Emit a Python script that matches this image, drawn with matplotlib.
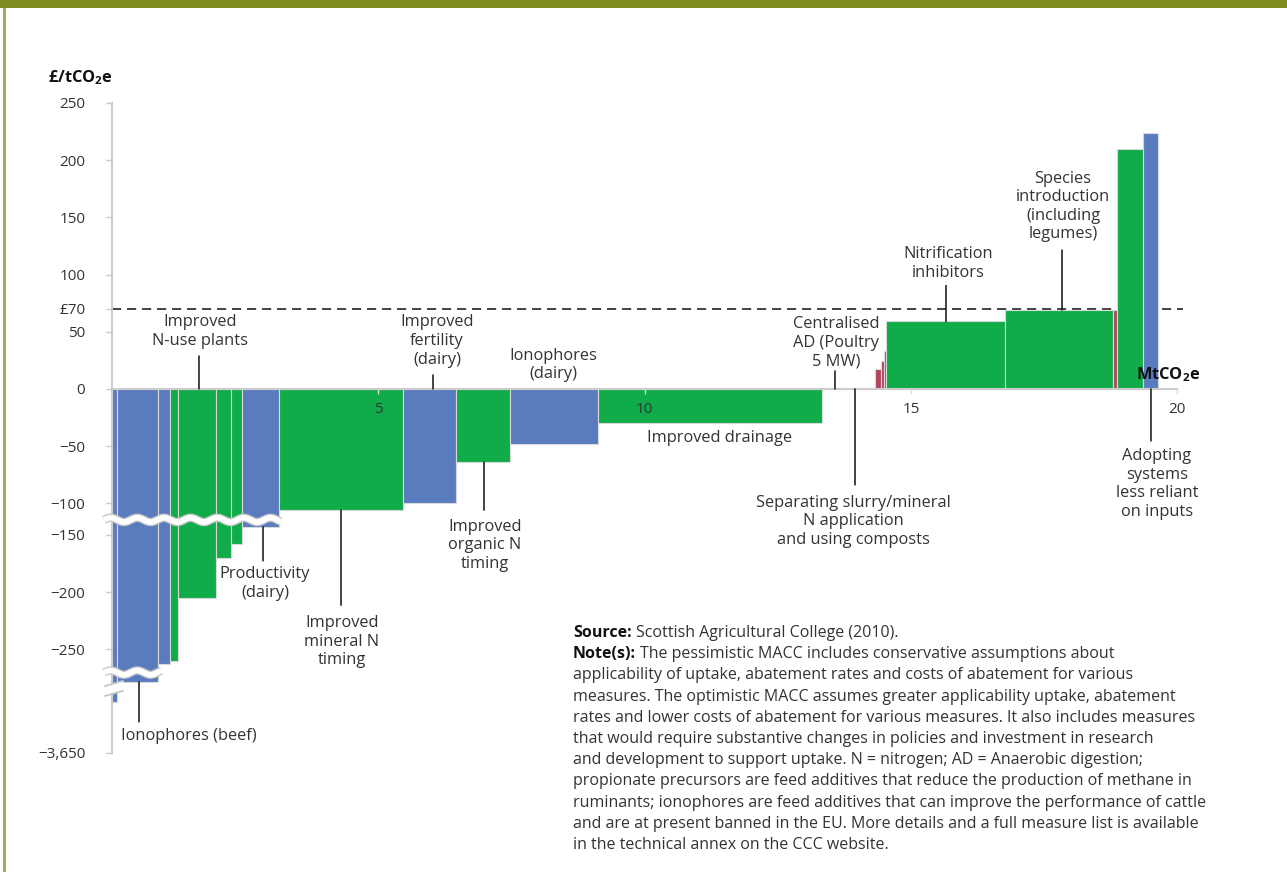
import numpy as np
import matplotlib
matplotlib.use("Agg")
import matplotlib.pyplot as plt
from matplotlib.patches import Rectangle
from matplotlib.ticker import NullLocator

plt.rcParams['font.family'] = ['Open Sans', 'DejaVu Sans']
plt.rcParams['mathtext.fontset'] = 'custom'
plt.rcParams['mathtext.rm'] = 'Open Sans'
plt.rcParams['mathtext.bf'] = 'Open Sans:bold'

# MACC: abatement of each measure (MtCO2e) and its cost (£/tCO2e), cheapest first
abatement = [0.10, 0.77, 0.21, 0.15, 0.73, 0.28, 0.20, 0.69, 2.34, 0.98, 1.03, 1.64,
             4.21, 0.48, 0.52, 0.10, 0.07, 0.03, 2.23, 2.04, 0.07, 0.48, 0.29]
cost = [-950, -278.5, -263, -260, -205, -170, -158, -143, -106, -100, -64, -48,
        -30, 0, 0, 17, 24, 33, 59, 69, 69, 210, 224]
group = ['b', 'b', 'b', 'g', 'g', 'g', 'g', 'b', 'g', 'b', 'g', 'b',
         'g', 'g', 'g', 'r', 'r', 'r', 'g', 'g', 'r', 'g', 'b']
colours = {'b': '#5b7bbf', 'g': '#10ac4a', 'r': '#b04560'}

yticks = [250, 200, 150, 100, 70, 50, 0, -50, -100, -150, -200, -250, -3650]
ytick_labels = ['250', '200', '150', '100', '£70', '50', '0', '−50', '−100',
                '−150', '−200', '−250', '−3,650']
xticks = [5, 10, 15, 20]
threshold = 70

# broken y axis: real value -> drawn position
V_BRK = [-1e5, -3650, -285, -133, -110, 1e5]
F_BRK = [-1913.0, -318.3, -262.6, -110.6, -110.0, 1e5]


def fwd(v):
    return np.interp(v, V_BRK, F_BRK)


def inv(f):
    return np.interp(f, F_BRK, V_BRK)


TXT = '#333333'
FS = 11.8
W, H = 1287, 872
fig = plt.figure(figsize=(12.87, 8.72), dpi=100)
fig.add_artist(Rectangle((0, 1 - 8 / H), 1, 8 / H, transform=fig.transFigure,
                         color='#7f8c1f', lw=0))
fig.add_artist(Rectangle((3 / W, 0), 2.5 / W, 1 - 8 / H, transform=fig.transFigure,
                         color='#a8ad5c', lw=0))

ax = fig.add_axes([112 / W, 1 - 753 / H, 1071 / W, 650 / H])
ax.set_yscale('function', functions=(fwd, inv))
ax.set_xlim(0, 1071 / 53.27)
ax.set_ylim(-3650, 250)
ax.set_axisbelow(False)

lefts = np.concatenate([[0], np.cumsum(abatement)[:-1]])
ax.bar(lefts, cost, width=abatement, align='edge',
       color=[colours[g] for g in group], edgecolor='#d9d9d9', linewidth=0.8, zorder=2)
ax.axhline(threshold, color='#222222', lw=1.2, ls=(0, (5.5, 3.5)), zorder=1.5)

for s in ['top', 'right']:
    ax.spines[s].set_visible(False)
ax.spines['bottom'].set_position(('data', 0))
ax.spines['bottom'].set_bounds(0, 20)
for s in ['left', 'bottom']:
    ax.spines[s].set_color('#cccccc')
    ax.spines[s].set_linewidth(1.5)

ax.set_yticks(yticks, ytick_labels)
ax.yaxis.set_minor_locator(NullLocator())
ax.set_xticks(xticks, [str(t) for t in xticks])
ax.tick_params(axis='y', length=4.3, width=1, color='#c8c8c8', pad=15,
               labelsize=11, labelcolor=TXT)
ax.tick_params(axis='x', length=3.6, width=1, color='#dddddd', pad=6,
               labelsize=11, labelcolor=TXT)


# wavy white cut marks where the bars are broken
def wave(x0, x1, f_mid, amp=1.9, period=0.5):
    xs = np.linspace(x0, x1, 400)
    fs = f_mid + amp * np.sin(2 * np.pi * (xs - x0) / period)
    ax.plot(xs, inv(fs), color='#c8c8c8', lw=6, solid_capstyle='butt',
            zorder=3, clip_on=False)
    ax.plot(xs, inv(fs), color='white', lw=4, solid_capstyle='butt',
            zorder=3.1, clip_on=False)


wave(-0.15, 3.17, -114.5)
wave(-0.15, 0.93, -248.0)

# break in the y axis line
bx = [-0.131, 0.206]
ax.fill([bx[0], bx[1], bx[1], bx[0]],
        inv(np.array([-259.7, -255.3, -264.0, -268.4])),
        color='white', zorder=3.2, clip_on=False, lw=0)
for a, b in [(-259.7, -255.3), (-268.4, -264.0)]:
    ax.plot(bx, inv(np.array([a, b])), color='#c8c8c8', lw=1.3, zorder=3.3,
            clip_on=False)

# callouts: text, bar index (None = axis), line x, line length px, text dx px, text dy px
callouts = [
    ("Improved\nN-use plants", None, 1.633, 33, 1, 57.5),
    ("Improved\nfertility\n(dairy)", None, 6.026, 14, 4, 48),
    ("Ionophores\n(dairy)", None, 8.28, 0, 0, 24),
    ("Improved drainage", 12, 11.41, 0, 0, -15),
    ("Centralised\nAD (Poultry\n5 MW)", None, 13.572, 18, 1, 46),
    ("Separating slurry/mineral\nN application\nand using composts", None, 13.948, -96, -2, -132.5),
    ("Nitrification\ninhibitors", 18, 15.656, 36, 2, 58),
    ("Species\nintroduction\n(including\nlegumes)", 19, 17.834, 60, 1, 103.5),
    ("Adopting\nsystems\nless reliant\non inputs", None, 19.504, -52, 6, -95),
    ("Improved\norganic N\ntiming", 10, 6.983, -48, 1, -83),
    ("Improved\nmineral N\ntiming", 8, 4.299, -95, 1, -131.5),
    ("Productivity\n(dairy)", 7, 2.835, -34, 2, -56.5),
    ("Ionophores (beef)", 1, 0.507, -40, 50, -54),
]
for text, idx, x, line_px, dx, dy in callouts:
    v = 0 if idx is None else cost[idx]
    if line_px:
        ax.annotate('', xy=(x, v), xytext=(0, line_px * 0.72), textcoords='offset points',
                    arrowprops=dict(arrowstyle='-', color='#111111', lw=1.1,
                                    shrinkA=0, shrinkB=0), zorder=4)
    ax.annotate(text, xy=(x, v), xytext=(dx * 0.72, dy * 0.72), textcoords='offset points',
                ha='center', va='center', fontsize=FS, color=TXT, linespacing=1.22,
                zorder=4)

fig.text(48 / W, 1 - 78 / H, r'£/tCO$_{\mathbf{2}}$e', fontsize=11.8, fontweight='bold',
         color='#111111', va='center')
fig.text(1136 / W, 1 - 375 / H, r'MtCO$_{\mathbf{2}}$e', fontsize=11.8, fontweight='bold',
         color='#111111', va='center')

note = [
    ('Source:', 'Scottish Agricultural College (2010).'),
    ('Note(s):', 'The pessimistic MACC includes conservative assumptions about'),
    ('', 'applicability of uptake, abatement rates and costs of abatement for various'),
    ('', 'measures. The optimistic MACC assumes greater applicability uptake, abatement'),
    ('', 'rates and lower costs of abatement for various measures. It also includes measures'),
    ('', 'that would require substantive changes in policies and investment in research'),
    ('', 'and development to support uptake. N = nitrogen; AD = Anaerobic digestion;'),
    ('', 'propionate precursors are feed additives that reduce the production of methane in'),
    ('', 'ruminants; ionophores are feed additives that can improve the performance of cattle'),
    ('', 'and are at present banned in the EU. More details and a full measure list is available'),
    ('', 'in the technical annex on the CCC website.'),
]
renderer = fig.canvas.get_renderer()
NFS = 11.5
for i, (head, body) in enumerate(note):
    y = 1 - (637 + i * 21.2) / H
    x = 573 / W
    if head:
        t = fig.text(x, y, head, fontsize=NFS, fontweight='bold', color='#111111',
                     va='baseline')
        x = (t.get_window_extent(renderer).x1 + 4) / W
    fig.text(x, y, body, fontsize=NFS, color=TXT, va='baseline')

fig.savefig('out.png', dpi=100)
